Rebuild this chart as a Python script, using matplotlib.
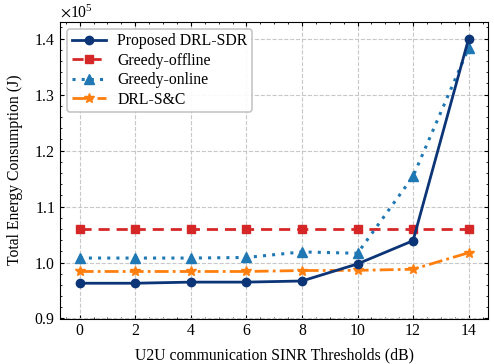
import numpy as np
import matplotlib
matplotlib.use("Agg")
import matplotlib.pyplot as plt
from matplotlib.ticker import AutoMinorLocator, ScalarFormatter

# SINR thresholds (dB)
thresholds = [0, 2, 4, 6, 8, 10, 12, 14]

# total energy consumption (J)
drl_sdr = [96300, 96300, 96500, 96500, 96700, 99750, 103900, 140000]
greedy_offline = [106000, 106000, 106000, 106000, 106000, 106000, 106000, 106000]
greedy_online = [100800, 100800, 100800, 100900, 101900, 101650, 115400, 138300]
drl_sc = [98400, 98400, 98400, 98400, 98570, 98600, 98800, 101750]

plt.rcParams.update({
    "font.family": "serif",
    "font.serif": ["Liberation Serif", "DejaVu Serif"],
    "mathtext.fontset": "stix",
    "font.size": 11.3,
    "xtick.direction": "in",
    "ytick.direction": "in",
    "xtick.top": True,
    "ytick.right": True,
    "xtick.major.size": 3,
    "ytick.major.size": 3,
    "xtick.minor.size": 1.5,
    "ytick.minor.size": 1.5,
    "xtick.minor.visible": True,
    "ytick.minor.visible": True,
    "axes.linewidth": 0.8,
})

fig, ax = plt.subplots(figsize=(4.94, 3.64), dpi=100)
fig.subplots_adjust(left=0.122, right=0.988, top=0.94, bottom=0.125)

ax.plot(thresholds, drl_sdr, color="#0c3577", marker="o", ms=6, lw=2, label="Proposed DRL-SDR", zorder=5)
ax.plot(thresholds, greedy_offline, color="#d62728", marker="s", ms=5.5, lw=2, ls=(0, (4, 2.5)), label="Greedy-offline")
ax.plot(thresholds, greedy_online, color="#1f77b4", marker="^", ms=6.5, lw=2.2, ls=(0, (1, 2)), label="Greedy-online")
ax.plot(thresholds, drl_sc, color="#ff7f0e", marker="*", ms=7.5, lw=2, ls=(0, (5, 1.5, 1, 1.5)), label="DRL-S&C")

ax.set_xticks(thresholds)
ax.set_ylim(90000, 143000)
ax.xaxis.set_minor_locator(AutoMinorLocator(4))
ax.yaxis.set_minor_locator(AutoMinorLocator(5))
fmt = ScalarFormatter(useMathText=True)
fmt.set_powerlimits((0, 0))
ax.yaxis.set_major_formatter(fmt)

ax.grid(True, which="major", ls="--", color="#c8c8c8", lw=0.8)
ax.set_xlabel("U2U communication SINR Thresholds (dB)", labelpad=6)
ax.set_ylabel("Total Energy Consumption (J)", labelpad=8)
leg = ax.legend(loc="upper left", frameon=True, fancybox=True, edgecolor="#c0c0c0", framealpha=0.9,
                fontsize=11.3, handlelength=2.2, handletextpad=0.7, borderaxespad=0.45,
                labelspacing=0.22, borderpad=0.28)
leg.get_frame().set_linewidth(1.2)

fig.savefig("out.png", dpi=100)
